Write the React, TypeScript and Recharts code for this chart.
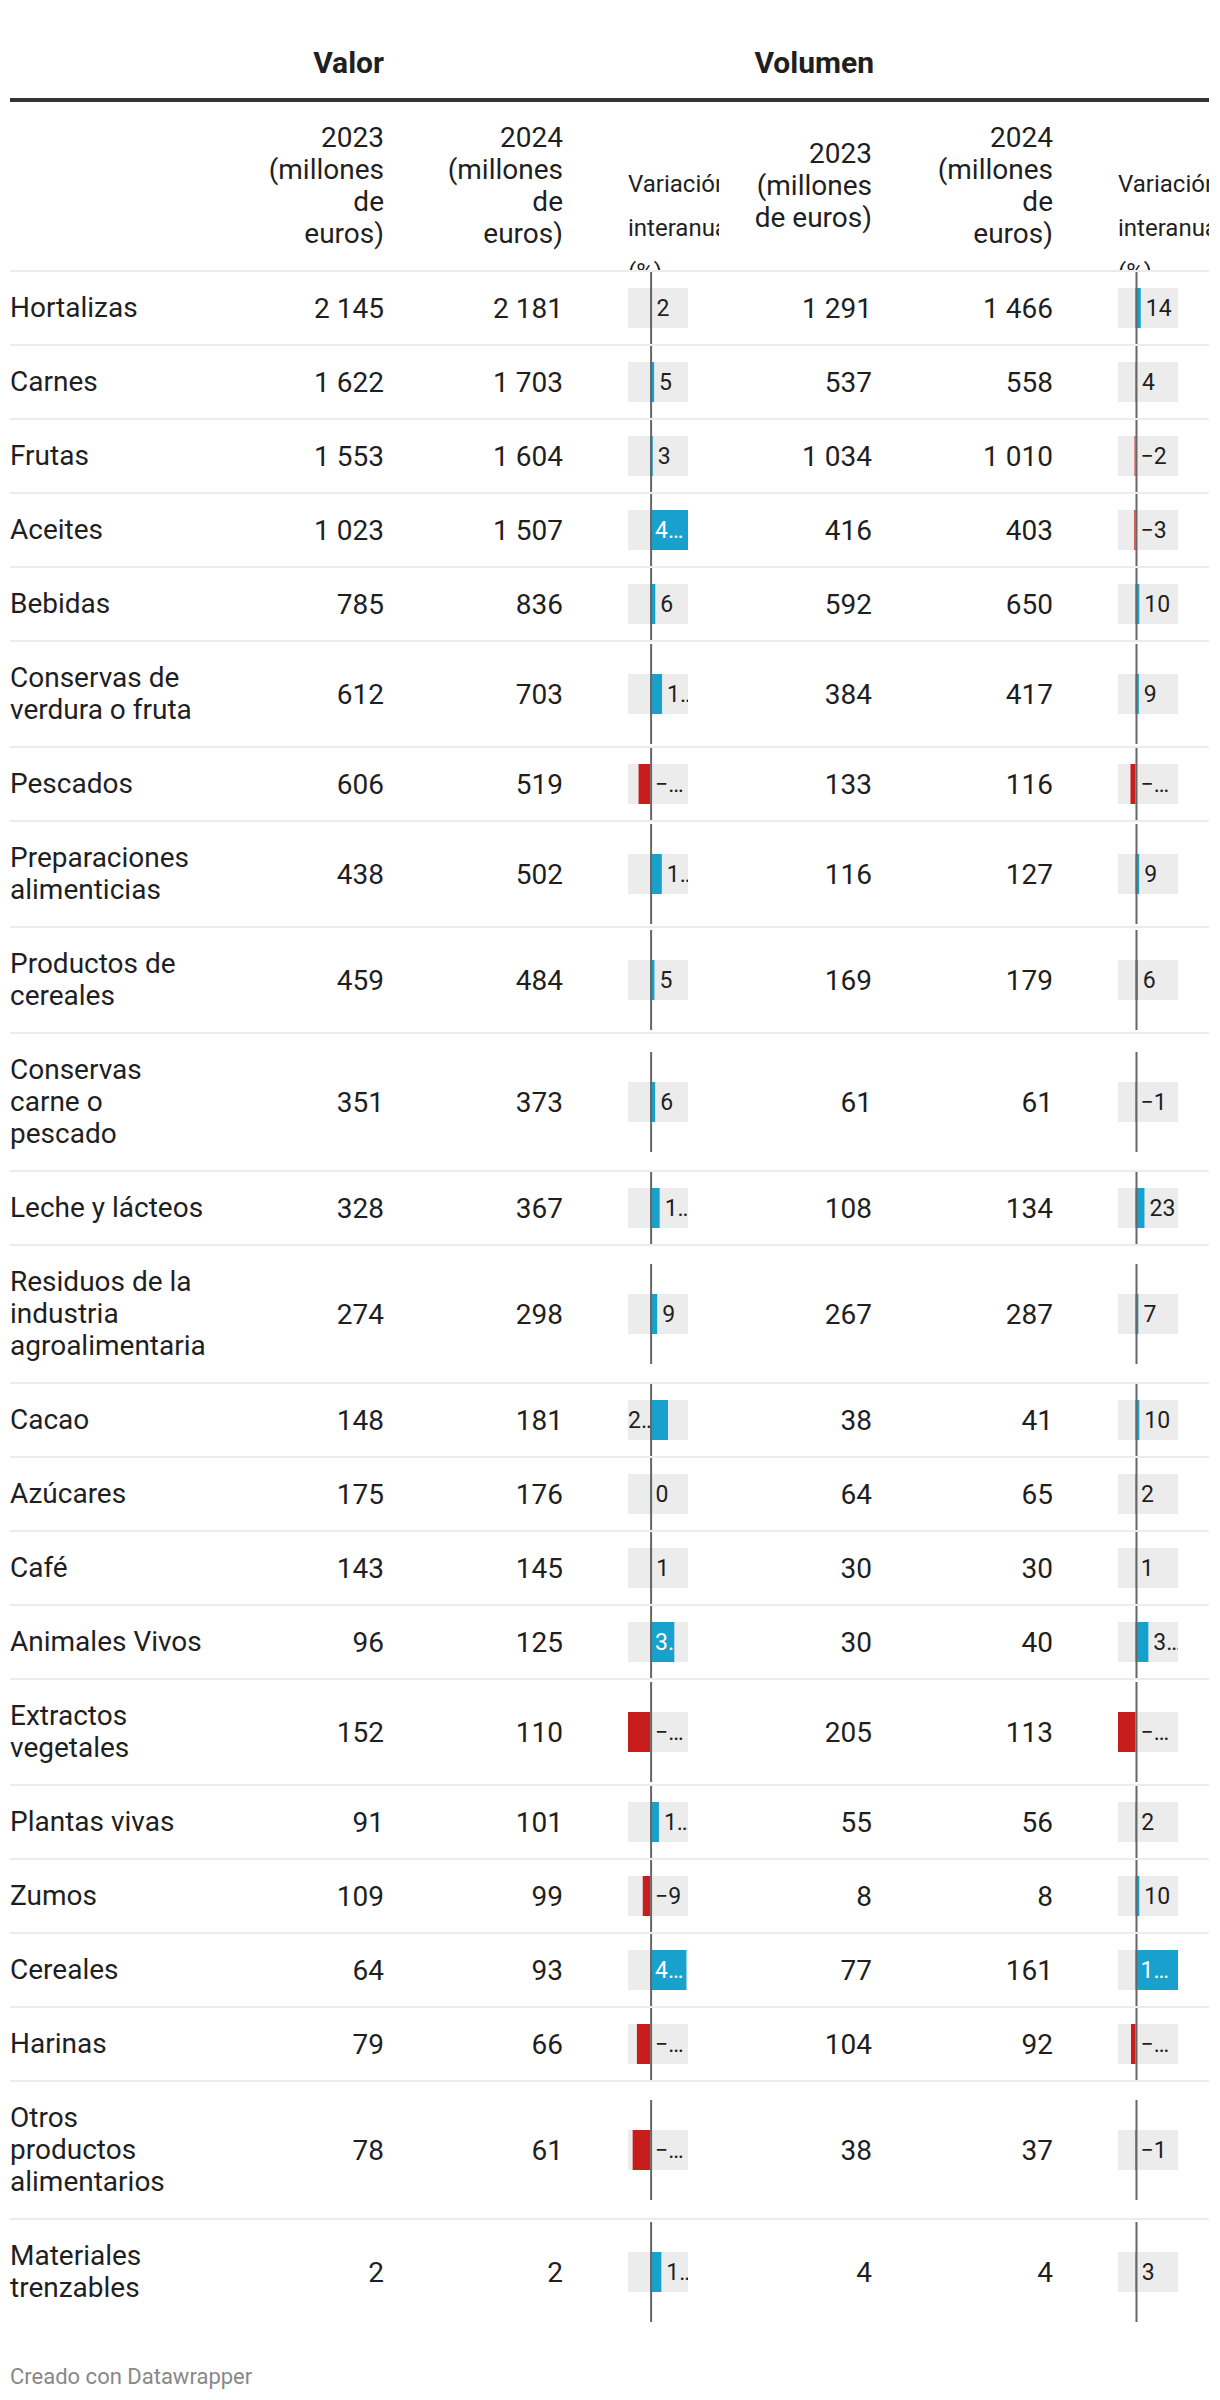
import React from 'react';
import { BarChart, Bar, XAxis, YAxis, Cell, LabelList, ReferenceLine } from 'recharts';

// rows (line breaks as in the original table)
const CATEGORIES = [
    'Hortalizas', 'Carnes', 'Frutas', 'Aceites', 'Bebidas', 'Conservas de\nverdura o fruta', 'Pescados',
    'Preparaciones\nalimenticias', 'Productos de\ncereales', 'Conservas\ncarne o\npescado', 'Leche y lácteos',
    'Residuos de la\nindustria\nagroalimentaria', 'Cacao', 'Azúcares', 'Café', 'Animales Vivos',
    'Extractos\nvegetales', 'Plantas vivas', 'Zumos', 'Cereales', 'Harinas', 'Otros\nproductos\nalimentarios',
    'Materiales\ntrenzables',
];

const VALOR_2023 = [2145, 1622, 1553, 1023, 785, 612, 606, 438, 459, 351, 328, 274, 148, 175, 143, 96, 152, 91, 109, 64, 79, 78, 2];
const VALOR_2024 = [2181, 1703, 1604, 1507, 836, 703, 519, 502, 484, 373, 367, 298, 181, 176, 145, 125, 110, 101, 99, 93, 66, 61, 2];
const VALOR_VAR = [1.7, 5.0, 3.3, 47.3, 6.4, 14.9, -14.4, 14.6, 5.4, 6.3, 11.9, 8.8, 22.3, 0.4, 1.4, 30.2, -27.6, 11.0, -9.2, 45.3, -16.5, -21.8, 14];

const VOLUMEN_2023 = [1291, 537, 1034, 416, 592, 384, 133, 116, 169, 61, 108, 267, 38, 64, 30, 30, 205, 55, 8, 77, 104, 38, 4];
const VOLUMEN_2024 = [1466, 558, 1010, 403, 650, 417, 116, 127, 179, 61, 134, 287, 41, 65, 30, 40, 113, 56, 8, 161, 92, 37, 4];
const VOLUMEN_VAR = [13.6, 3.9, -2.3, -3.1, 9.8, 8.6, -12.8, 9.4, 5.9, -1.0, 23, 7.4, 9.8, 1.6, 0.8, 33, -44.9, 1.8, 9.7, 109.1, -11.5, -1.3, 3];

const GROUP_TITLES = ['Valor', 'Volumen'];
const YEAR_HEADERS = ['2023\n(millones\nde\neuros)', '2024\n(millones\nde\neuros)', '2023\n(millones\nde euros)', '2024\n(millones\nde\neuros)'];
const VAR_HEADER = 'Variación\ninteranual\n(%)';
const FOOTER = 'Creado con Datawrapper';

const POS = '#18a1cd';
const NEG = '#c71e1d';
const TEXT = '#1f1f1f';
const FONT = 'Roboto, sans-serif';
const BOX_W = 60;
const PAD = 5;
const LABEL_SIZE = 23;

const NUM_RIGHT = [384, 563, 872, 1053];
const VAR_LEFT = [628, 1118];

let ctx: CanvasRenderingContext2D | null = null;
const measure = (s: string) => {
    if (!ctx) ctx = document.createElement('canvas').getContext('2d');
    if (!ctx) return s.length * 13;
    ctx.font = `${LABEL_SIZE}px Roboto`;
    return ctx.measureText(s).width;
};

const fmt = (n: number) => (n >= 1000 ? `${Math.floor(n / 1000)} ${String(n % 1000).padStart(3, '0')}` : String(n));
const fmtVar = (v: number) => {
    const r = Math.round(v);
    return r < 0 ? `\u2212${Math.abs(r)}` : String(r);
};

// label goes right of the bar, inside it, or on the other side of zero, whichever has room
const renderVarLabel = (p: any, v: number, id: string) => {
    const vb = p.viewBox || p;
    const x0 = Math.min(vb.x, vb.x + vb.width);
    const x1 = Math.max(vb.x, vb.x + vb.width);
    const zero = v >= 0 ? x0 : x1;
    const end = v >= 0 ? x1 : x0;
    const cy = vb.y + vb.height / 2;
    const full = fmtVar(v);
    const tw = measure(full);
    let tx = zero + PAD;
    let c0 = zero;
    let c1 = BOX_W;
    let avail = BOX_W - zero - PAD - 1;
    let fill = TEXT;
    if (v >= 0) {
        const right = BOX_W - end;
        const inside = end - zero;
        const left = zero;
        if (tw <= right - PAD - 1 || (right >= inside && right >= left)) {
            tx = end + PAD; c0 = end; avail = right - PAD - 1;
        } else if (inside >= left) {
            tx = zero + PAD; c0 = zero; c1 = end; avail = inside - 2 * PAD - 3; fill = '#fff';
        } else {
            tx = 0; c0 = 0; c1 = zero; avail = zero;
        }
    }
    const txt = tw <= avail ? full : `${full[0]}\u2026`;
    return (
        <g>
            <defs>
                <clipPath id={id}>
                    <rect x={c0} y={vb.y - 10} width={Math.max(0, c1 - c0)} height={vb.height + 20} />
                </clipPath>
            </defs>
            <text x={tx} y={cy} dy="0.36em" fontSize={LABEL_SIZE} fontFamily={FONT} fill={fill} clipPath={`url(#${id})`}>
                {txt}
            </text>
        </g>
    );
};

const ZeroLine = (p: any) => (
    <line x1={p.x1 + 1} x2={p.x2 + 1} y1={p.y1} y2={p.y2} stroke="#666" strokeWidth={2} />
);

const VarCell = ({ value, domain, height, id }: { value: number; domain: [number, number]; height: number; id: string }) => (
    <BarChart width={BOX_W} height={height} data={[{ name: 'v', value }]} layout="vertical" margin={{ top: 0, right: 0, bottom: 0, left: 0 }} barSize={40}>
        <XAxis type="number" domain={domain} hide />
        <YAxis type="category" dataKey="name" hide />
        <Bar dataKey="value" background={{ fill: '#ececec' }} isAnimationActive={false}>
            <Cell fill={value < 0 ? NEG : POS} />
            <LabelList dataKey="value" content={(p: any) => renderVarLabel(p, value, id)} />
        </Bar>
        <ReferenceLine x={0} shape={ZeroLine} />
    </BarChart>
);

export default function App() {
    const varCols = [VALOR_VAR, VOLUMEN_VAR];
    const numCols = [VALOR_2023, VALOR_2024, VOLUMEN_2023, VOLUMEN_2024];
    const domains = varCols.map((c) => [Math.min(...c), Math.max(...c)] as [number, number]);

    let top = 270;
    const rows = CATEGORIES.map((label, i) => {
        const lines = label.split('\n').length;
        const h = 74 + 32 * (lines - 1);
        const r = { label, i, top, h };
        top += h;
        return r;
    });

    return (
        <div style={{ position: 'relative', width: 1220, height: 2400, fontFamily: FONT, color: TEXT, overflow: 'hidden', background: '#fff' }}>
            <style>{'body{margin:0}'}</style>

            {/* group titles */}
            {GROUP_TITLES.map((t, k) => (
                <div key={t} style={{ position: 'absolute', left: 0, width: [384, 874][k], top: 45, height: 36, lineHeight: '36px', textAlign: 'right', fontSize: 30, fontWeight: 700 }}>
                    {t}
                </div>
            ))}
            <div style={{ position: 'absolute', left: 10, top: 98, width: 1199, height: 4, background: '#333' }} />

            {/* column headers */}
            {YEAR_HEADERS.map((t, k) => (
                <div key={k} style={{ position: 'absolute', left: NUM_RIGHT[k] - 160, width: 160, top: 102, height: 168, display: 'flex', alignItems: 'center', justifyContent: 'flex-end' }}>
                    <div style={{ whiteSpace: 'pre-line', textAlign: 'right', fontSize: 28, lineHeight: '32px' }}>{t}</div>
                </div>
            ))}
            {VAR_LEFT.map((x) => (
                <div key={x} style={{ position: 'absolute', left: x, width: Math.min(91, 1209 - x), top: 102, height: 168, overflow: 'hidden' }}>
                    <div style={{ whiteSpace: 'pre', fontSize: 24, lineHeight: '44px', paddingTop: 60 }}>{VAR_HEADER}</div>
                </div>
            ))}

            {/* rows */}
            {rows.map((r) => {
                const contentH = r.h - 2;
                const ch = Math.min(contentH, 100);
                return (
                    <React.Fragment key={r.i}>
                        <div style={{ position: 'absolute', left: 10, width: 1199, top: r.top, height: 2, background: '#ececec' }} />
                        <div style={{ position: 'absolute', left: 10, width: 230, top: r.top + 2, height: contentH, display: 'flex', alignItems: 'center' }}>
                            <div style={{ whiteSpace: 'pre-line', fontSize: 28, lineHeight: '32px' }}>{r.label}</div>
                        </div>
                        {numCols.map((col, k) => (
                            <div key={k} style={{ position: 'absolute', left: NUM_RIGHT[k] - 150, width: 150, top: r.top + 2, height: contentH, display: 'flex', alignItems: 'center', justifyContent: 'flex-end', fontSize: 28 }}>
                                {fmt(col[r.i])}
                            </div>
                        ))}
                        {varCols.map((col, k) => (
                            <div key={`v${k}`} style={{ position: 'absolute', left: VAR_LEFT[k], top: r.top + 2 + (contentH - ch) / 2, width: BOX_W, height: ch }}>
                                <VarCell value={col[r.i]} domain={domains[k]} height={ch} id={`clip-${k}-${r.i}`} />
                            </div>
                        ))}
                    </React.Fragment>
                );
            })}

            <div style={{ position: 'absolute', left: 10, top: 2362, fontSize: 22, lineHeight: '30px', color: '#888' }}>{FOOTER}</div>
        </div>
    );
}
